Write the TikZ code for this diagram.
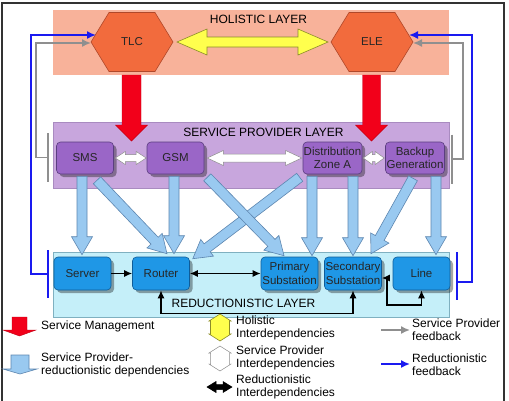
\documentclass[tikz,border=0pt]{standalone}
\usepackage{fontspec}
\setmainfont{Liberation Sans}
\usetikzlibrary{calc,shadows,arrows.meta}
\definecolor{holbg}{HTML}{F8B29A}
\definecolor{hexfill}{HTML}{F26B3D}
\definecolor{hexline}{HTML}{B0482A}
\definecolor{yel}{HTML}{FFFF4D}
\definecolor{yelline}{HTML}{8C8C2A}
\definecolor{redarr}{HTML}{F2001A}
\definecolor{spbg}{HTML}{C8A6DD}
\definecolor{spline}{HTML}{A98BC0}
\definecolor{pfill}{HTML}{9A66C7}
\definecolor{pline}{HTML}{5B3E80}
\definecolor{rdbg}{HTML}{C5EFF9}
\definecolor{rdline}{HTML}{7FB0C0}
\definecolor{bfill}{HTML}{1F97E6}
\definecolor{bline}{HTML}{0E5C99}
\definecolor{lbfill}{HTML}{99C9F0}
\definecolor{lbline}{HTML}{5D86B0}
\definecolor{gfbc}{HTML}{8F8F8F}
\definecolor{bfbc}{HTML}{1A1AF0}
\newcommand\fatarr[6]{%
  \coordinate (fa-s) at (#2);
  \coordinate (fa-e) at (#3);
  \coordinate (fa-m) at ($(fa-e)!#6!(fa-s)$);
  \draw[#1] ($(fa-s)!#4!90:(fa-e)$) -- ($(fa-m)!#4!90:(fa-e)$) -- ($(fa-m)!#5!90:(fa-e)$)
    -- (fa-e) -- ($(fa-m)!#5!-90:(fa-e)$) -- ($(fa-m)!#4!-90:(fa-e)$) -- ($(fa-s)!#4!-90:(fa-e)$) -- cycle;
}
\newcommand\fatdarr[6]{%
  \coordinate (fa-s) at (#2);
  \coordinate (fa-e) at (#3);
  \coordinate (fa-m) at ($(fa-e)!#6!(fa-s)$);
  \coordinate (fa-n) at ($(fa-s)!#6!(fa-e)$);
  \draw[#1] (fa-s) -- ($(fa-n)!#5!90:(fa-e)$) -- ($(fa-n)!#4!90:(fa-e)$) -- ($(fa-m)!#4!90:(fa-e)$)
    -- ($(fa-m)!#5!90:(fa-e)$) -- (fa-e) -- ($(fa-m)!#5!-90:(fa-e)$) -- ($(fa-m)!#4!-90:(fa-e)$)
    -- ($(fa-n)!#4!-90:(fa-e)$) -- ($(fa-n)!#5!-90:(fa-e)$) -- cycle;
}
\newcommand\hexat[1]{%
  \draw[hexstyle] ($(#1)+(-41,0)$) -- ($(#1)+(-23,-29.5)$) -- ($(#1)+(23,-29.5)$) -- ($(#1)+(41,0)$)
    -- ($(#1)+(23,29.5)$) -- ($(#1)+(-23,29.5)$) -- cycle;
}
\tikzset{
  layerlbl/.style={font=\fontsize{12}{13}\selectfont, inner sep=0pt},
  hexstyle/.style={fill=hexfill, draw=hexline, line width=0.6pt},
  hextext/.style={font=\fontsize{11.5}{13}\selectfont, text=black!85, inner sep=0pt},
  pnode/.style={draw=pline, fill=pfill, rounded corners=4pt, minimum width=57pt, minimum height=32pt,
    inner sep=0pt, align=center, text=black!85, font=\fontsize{11.5}{13}\selectfont, line width=0.6pt,
    drop shadow={shadow xshift=3pt, shadow yshift=-3pt, fill=black, opacity=0.35}},
  bnode/.style={draw=bline, fill=bfill, rounded corners=4pt, minimum width=57pt, minimum height=33pt,
    inner sep=0pt, align=center, text=black!85, font=\fontsize{11.5}{14}\selectfont, line width=0.6pt,
    drop shadow={shadow xshift=3pt, shadow yshift=-3pt, fill=black, opacity=0.35}},
  lbarrow/.style={fill=lbfill, draw=lbline, line width=0.6pt},
  redarrow/.style={fill=redarr, draw=redarr!80!black, line width=0.4pt},
  yelarrow/.style={fill=yel, draw=yelline, line width=0.6pt},
  wharrow/.style={fill=white, draw=black!45, line width=0.5pt},
  blkarrow/.style={fill=black, draw=black, line width=0.5pt},
  blk/.style={draw=black, line width=1.4pt, {Latex[length=8pt,width=7pt]}-{Latex[length=8pt,width=7pt]}},
  gfb/.style={draw=gfbc, line width=1.6pt},
  bfb/.style={draw=bfbc, line width=1.6pt},
  fbtip/.style={-{Latex[length=9pt,width=8pt]}},
  legtext/.style={font=\fontsize{12}{13}\selectfont, anchor=west, align=left, inner sep=0pt}
}
\begin{document}
\begin{tikzpicture}[x=1pt,y=-1pt]
\useasboundingbox (0,0) rectangle (509,400);
\fill[white] (0,0) rectangle (509,400);
\draw[line width=1.5pt, black!80] (2,402) -- (2,3) -- (504,3) -- (504,402);

% layers
\fill[holbg] (53,10) rectangle (449,75);
\draw[spline, fill=spbg, line width=0.5pt] (53,122) rectangle (449,188);
\draw[rdline, fill=rdbg, line width=0.5pt] (53,252) rectangle (449,317);
\node[layerlbl] (hollbl) at (258.5,19) {HOLISTIC LAYER};
\node[layerlbl] (splbl) at (263.5,132) {SERVICE PROVIDER LAYER};
\node[layerlbl] (rdlbl) at (243.5,303) {REDUCTIONISTIC LAYER};

% holistic
\coordinate (tlc) at (132,42);
\coordinate (ele) at (372,42);
\hexat{tlc}
\hexat{ele}
\node[hextext] (tlct) at (tlc) {TLC};
\node[hextext] (elet) at (ele) {ELE};
\fatdarr{yelarrow}{$(tlc)+(45,0)$}{$(ele)+(-44,0)$}{5pt}{13pt}{30pt}

% service provider nodes
\node[pnode] (sms) at (85,158) {SMS};
\node[pnode] (gsm) at (175.5,158) {GSM};
\node[pnode, minimum width=59pt] (dist) at (332.5,158) {Distribution\\Zone A};
\node[pnode, minimum width=59pt] (backup) at (415,158) {Backup\\Generation};

% reductionistic nodes
\node[bnode] (server) at (82.5,273.5) {Server};
\node[bnode] (router) at (161,273.5) {Router};
\node[bnode] (primary) at (289.5,273.5) {Primary\\Substation};
\node[bnode] (secondary) at (353,273.5) {Secondary\\Substation};
\node[bnode] (line) at (421.5,273.5) {Line};

% red arrows
\fatarr{redarrow}{$(tlc)+(-0.5,33)$}{$(tlc)+(-0.5,99)$}{9.5pt}{16pt}{16pt}
\fatarr{redarrow}{$(ele)+(-0.5,33)$}{$(ele)+(-0.5,99)$}{9pt}{16pt}{16pt}

% white arrows
\fatdarr{wharrow}{$(sms.east)+(1.5,0)$}{$(gsm.west)+(-0.5,0)$}{3.5pt}{6.5pt}{10pt}
\fatdarr{wharrow}{$(gsm.east)+(3,0)$}{$(dist.west)+(-1,0)$}{4pt}{7.5pt}{16pt}
\fatdarr{wharrow}{$(dist.east)+(1,0)$}{$(backup.west)+(-1,0)$}{3.5pt}{6.5pt}{9pt}

% light blue dependency arrows
\fatarr{lbarrow}{$(sms.south)+(-3,2)$}{$(server.north)+(-0.5,-2)$}{5pt}{10.5pt}{18pt}
\fatarr{lbarrow}{$(sms.south)+(12,6)$}{$(router.north)+(6,-3)$}{5pt}{10.5pt}{18pt}
\fatarr{lbarrow}{$(gsm.south)+(-1.5,2)$}{$(router.north)+(13,-3)$}{5pt}{10.5pt}{18pt}
\fatarr{lbarrow}{$(dist.south west)+(-3,3)$}{$(router.north east)+(3,2)$}{5pt}{10.5pt}{18pt}
\fatarr{lbarrow}{$(gsm.south east)+(3,3)$}{$(primary.north)+(-5.5,-1)$}{5pt}{10.5pt}{18pt}
\fatarr{lbarrow}{$(dist.south)+(-20.5,2)$}{$(primary.north)+(22.5,-1)$}{5pt}{10.5pt}{18pt}
\fatarr{lbarrow}{$(dist.south)+(20.5,2)$}{$(secondary.north)+(0,-1)$}{5pt}{10.5pt}{18pt}
\fatarr{lbarrow}{$(backup.south)+(-2,4)$}{$(secondary.north)+(18,-3)$}{5pt}{10.5pt}{18pt}
\fatarr{lbarrow}{$(backup.south)+(21,2)$}{$(line.north)+(14.5,-2)$}{5pt}{10.5pt}{18pt}

% black reductionistic arrows
\draw[draw=black, line width=1.4pt, -{Latex[length=8pt,width=7pt]}] (server.east) -- (router.west);
\draw[blk] (router.east) -- (primary.west);
\draw[blk] (router.south) -- ++(0,23) -| (secondary.south);
\draw[blk] ($(secondary.east)+(0,4.5)$) -- ++(5,0) -- ++(0,27) -| (line.south);

% feedback
\coordinate (gbarL) at (48,157.5);
\coordinate (bbarL) at (48,274);
\coordinate (gbarR) at (452,159);
\coordinate (bbarR) at (457,282);
\draw[gfb] ($(gbarL)+(0,-24.5)$) -- ($(gbarL)+(0,24.5)$);
\draw[bfb] ($(bbarL)+(0,-24)$) -- ($(bbarL)+(0,24)$);
\draw[gfb] ($(gbarR)+(0,-24.5)$) -- ($(gbarR)+(0,24.5)$);
\draw[bfb] ($(bbarR)+(0,-30)$) -- ($(bbarR)+(0,18)$);
\draw[gfb, fbtip] (gbarL) -- ++(-12,0) |- ($(tlc)+(-41,1)$);
\draw[bfb, fbtip] (bbarL) -- ++(-17,0) |- ($(tlc)+(-36,-7)$);
\draw[gfb, fbtip] (gbarR) -- ++(11,0) |- ($(ele)+(41,1)$);
\draw[bfb, fbtip] (bbarR) -- ++(15,0) |- ($(ele)+(37,-7)$);

% legend
\fatarr{redarrow}{19.5,317}{19.5,336}{7.5pt}{16.5pt}{6pt}
\node[legtext] (l1) at (41,326) {Service Management};
\fatarr{lbarrow}{20,355}{20,374}{9pt}{17pt}{5pt}
\node[legtext] (l2) at (41,364.5) {Service Provider-\\reductionistic dependencies};
\fatdarr{yelarrow}{220,314}{220,341}{9.5pt}{11pt}{7pt}
\node[legtext] (l3) at (236,327.5) {Holistic\\Interdependencies};
\fatdarr{wharrow}{220,346}{220,371}{9.5pt}{11pt}{7pt}
\node[legtext] (l4) at (236,357.5) {Service Provider\\Interdependencies};
\fatdarr{blkarrow}{207,387}{232,387}{2.5pt}{5.5pt}{9pt}
\node[legtext] (l5) at (236,386.5) {Reductionistic\\Interdependencies};
\coordinate (lg1) at (381,330);
\coordinate (lg2) at (381,364);
\draw[gfb, fbtip] (lg1) -- ++(29,0);
\node[legtext] (l6) at (412,329.5) {Service Provider\\feedback};
\draw[bfb, fbtip] (lg2) -- ++(29,0);
\node[legtext] (l7) at (412,364.5) {Reductionistic\\feedback};
\end{tikzpicture}
\end{document}
